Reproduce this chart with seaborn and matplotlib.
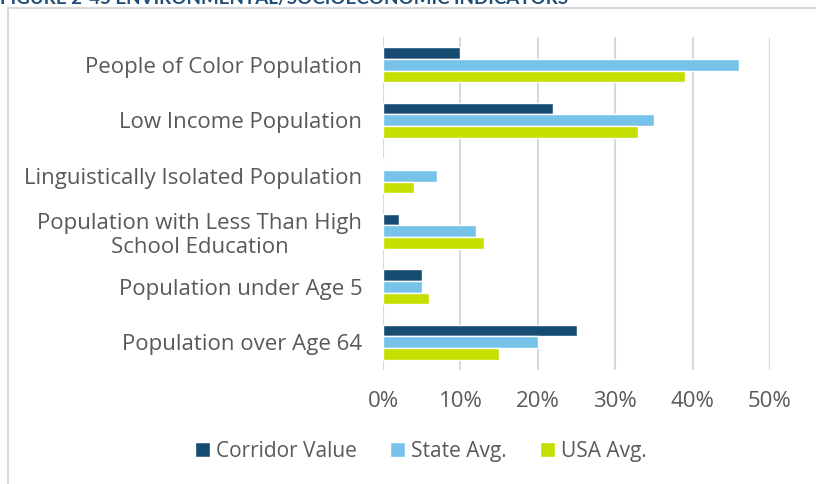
import matplotlib
matplotlib.use("Agg")
import matplotlib.pyplot as plt
import seaborn as sns
import pandas as pd
from matplotlib.patches import Rectangle
from matplotlib.ticker import PercentFormatter

# dados
categorias = ["People of Color Population",
              "Low Income Population",
              "Linguistically Isolated Population",
              "Population with Less Than High\nSchool Education",
              "Population under Age 5",
              "Population over Age 64"]
series = ["Corridor Value", "State Avg.", "USA Avg."]
corredor = [0.10, 0.22, 0.00, 0.02, 0.05, 0.25]
estado = [0.46, 0.35, 0.07, 0.12, 0.05, 0.20]
eua = [0.39, 0.33, 0.04, 0.13, 0.06, 0.15]
cores = ["#174C72", "#77C2E8", "#C5DF00"]

df = pd.DataFrame({
    "categoria": categorias * 3,
    "serie": [series[0]] * 6 + [series[1]] * 6 + [series[2]] * 6,
    "valor": corredor + estado + eua,
})

sns.set_style("white")
plt.rcParams["font.family"] = ["Open Sans", "DejaVu Sans"]
cinza = "#595959"

fig = plt.figure(figsize=(8.16, 4.84), dpi=100)
ax = fig.add_axes([0.4694, 0.2355, 0.4742, 0.6881])

sns.barplot(data=df, y="categoria", x="valor", hue="serie",
            order=categorias, hue_order=series, palette=cores,
            width=0.63, saturation=1, orient="h", ax=ax, legend=True)

ax.set_xlim(0, 0.5)
ax.set_xticks([0, 0.1, 0.2, 0.3, 0.4, 0.5])
ax.xaxis.set_major_formatter(PercentFormatter(1.0, decimals=0))
ax.grid(axis="x", color="#D9D9D9", linewidth=1.5)
ax.set_axisbelow(True)
for s in ax.spines.values():
    s.set_visible(False)
ax.tick_params(axis="both", length=0, colors=cinza, labelsize=16)
ax.tick_params(axis="x", pad=15)
ax.tick_params(axis="y", pad=15)
for lbl in ax.get_yticklabels():
    lbl.set_multialignment("center")
ax.set_xlabel("")
ax.set_ylabel("")

# legenda
h, l = ax.get_legend_handles_labels()
ax.legend_.remove()
fig.legend(h, l, loc="center", bbox_to_anchor=(0.516, 0.068), ncol=3,
           frameon=False, fontsize=15, labelcolor=cinza,
           handlelength=0.7, handleheight=0.7, handletextpad=0.3,
           columnspacing=1.6)

# moldura e titulo cortado
fig.patches.append(Rectangle((8 / 816, -0.1), 1.2, 1 - 8 / 484 + 0.1,
                             transform=fig.transFigure, fill=False,
                             edgecolor="#D9D9D9", linewidth=1.5))
fig.text(0.0, 1 - 4 / 484, "FIGURE 2-45 ENVIRONMENTAL/SOCIOECONOMIC INDICATORS",
         fontsize=13.5, fontweight="bold", color="#1F4E79", va="baseline",
         family=["Lato", "DejaVu Sans"])

plt.savefig("out.png", dpi=100)
